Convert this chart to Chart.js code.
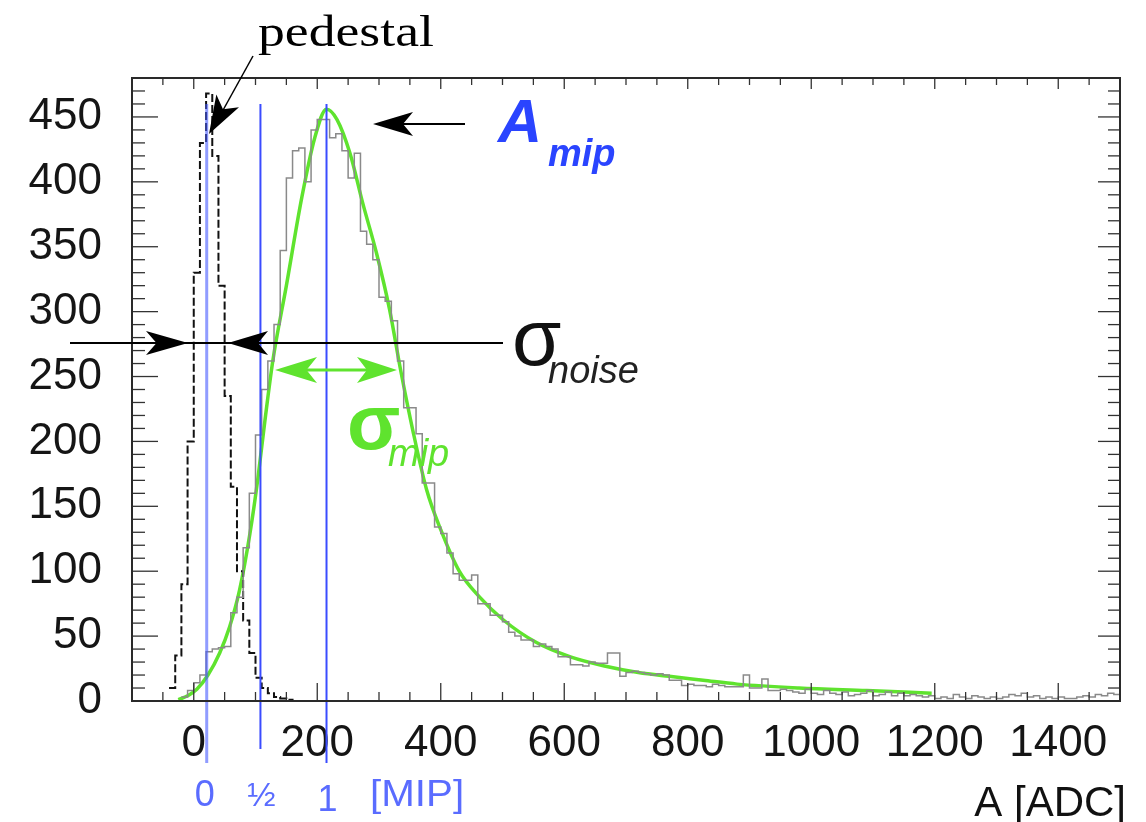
<!DOCTYPE html>
<html>
<head>
<meta charset="utf-8">
<script src="https://cdn.jsdelivr.net/npm/chart.js@4.4.1/dist/chart.umd.min.js"></script>
<style>
html,body{margin:0;padding:0;background:#fff;}
canvas{display:block;}
</style>
</head>
<body>
<canvas id="c" width="1146" height="822"></canvas>
<script>
// ---------------- data ----------------
const binWidth = 10;

// pedestal histogram (black), bins start at pedLowEdge
const pedLowEdge = -40;
const pedCounts = [10, 35, 90, 200, 330, 430, 468, 420, 320, 235, 165, 100, 62, 37, 18, 10, 6, 3, 2, 1, 0];

// MIP signal histogram (grey), bins start at mipLowEdge
const mipLowEdge = -20;
const mipCounts = [
  3, 8, 14, 20, 38, 40, 41, 42, 68, 80,
  118, 160, 205, 240, 262, 290, 347, 403, 424, 426,
  400, 440, 448, 448, 434, 437, 424, 403, 422, 362,
  352, 340, 311, 308, 293, 262, 226, 226, 206, 168,
  168, 134, 129, 114, 98, 93, 93, 97, 75, 75,
  66, 66, 61, 53, 50, 47, 47, 42, 44, 42,
  40, 34, 34, 28, 28, 27, 30, 29, 29, 37,
  37, 19, 22, 23, 22, 21, 20, 21, 20, 16,
  16, 12, 13, 12, 12, 11, 13, 12, 11, 11,
  11, 20, 10, 10, 17, 8, 8, 9, 8, 7,
  6, 9, 6, 5, 8, 6, 5, 7, 4, 5,
  6, 8, 4, 5, 7, 4, 6, 4, 5, 4,
  3, 4, 2, 3, 2, 5, 3, 2, 4, 3,
  2, 3, 2, 3, 5, 4, 6, 3, 4, 2,
  3, 2, 3, 2, 2, 3, 4, 3, 5, 4,
  6, 5
];

// fitted Landau (x) Gauss curve (green)
const fitX = [-25, -10, 5, 23, 42, 58, 74, 91, 104, 115, 128, 150, 175, 196, 215, 232, 253, 274, 296, 317, 335, 355, 377, 400, 430, 463, 500, 555, 610, 665, 720, 770, 825, 880, 980, 1090, 1195];
const fitY = [1, 4, 9, 20, 37, 57, 85, 129, 172, 215, 262, 320, 388, 434, 456, 448, 422, 383, 345, 302, 255, 208, 163, 132, 100, 80, 63, 45, 34, 27, 22, 19, 16, 13, 10, 8, 6];

// MIP scale markers (ADC positions of 0, 1/2, 1 MIP)
const mipMarkADC = [21, 108, 215];
const mipMarkLabels = ['0', '\u00BD', '1'];
const mipMarkTop = 460;

// axis ticks
const xTickValues = [0, 200, 400, 600, 800, 1000, 1200, 1400];
const yTickValues = [0, 50, 100, 150, 200, 250, 300, 350, 400, 450];
const xMin = -100, xMax = 1500, yMin = 0, yMax = 480;

// ---------------- helpers ----------------
function histPoints(low, w, counts) {
  const pts = counts.map((c, i) => ({ x: low + i * w, y: c }));
  pts.push({ x: low + counts.length * w, y: counts[counts.length - 1] });
  return pts;
}
function zip(xs, ys) { return xs.map((x, i) => ({ x: x, y: ys[i] })); }

function line(ctx, x1, y1, x2, y2) { ctx.beginPath(); ctx.moveTo(x1, y1); ctx.lineTo(x2, y2); ctx.stroke(); }
function head(ctx, tx, ty, ang, len, hw) {
  const c = Math.cos(ang), s = Math.sin(ang);
  const bx = tx - c * len, by = ty - s * len;
  ctx.beginPath();
  ctx.moveTo(tx, ty);
  ctx.lineTo(bx - s * hw, by + c * hw);
  ctx.lineTo(bx + c * len * 0.25, by + s * len * 0.25);
  ctx.lineTo(bx + s * hw, by - c * hw);
  ctx.closePath();
  ctx.fill();
}
function text(ctx, str, x, y, font, color, align, sx) {
  ctx.save();
  ctx.translate(x, y);
  ctx.scale(sx || 1, 1);
  ctx.font = font;
  ctx.fillStyle = color;
  ctx.textAlign = align || 'left';
  ctx.textBaseline = 'alphabetic';
  ctx.fillText(str, 0, 0);
  ctx.restore();
}

const BLUE = '#2a44ff';
const BLUE_LIGHT = '#5a6cff';
const GREEN = '#5fe32e';

const deco = {
  id: 'deco',
  afterDatasetsDraw(chart) {
    const { ctx, chartArea: a, scales: { x, y } } = chart;
    ctx.save();

    // MIP marker lines (blue)
    const ends = [62, 48, 62];
    mipMarkADC.forEach((v, i) => {
      const px = x.getPixelForValue(v);
      ctx.strokeStyle = i === 0 ? 'rgba(70,90,255,0.6)' : '#3a4cff';
      ctx.lineWidth = i === 0 ? 3 : 2;
      line(ctx, px, y.getPixelForValue(mipMarkTop), px, a.bottom + ends[i]);
    });

    // inner ticks (ROOT style)
    ctx.strokeStyle = '#333';
    ctx.lineWidth = 1.3;
    for (let v = xMin; v <= xMax; v += 50) {
      const px = x.getPixelForValue(v);
      const major = v % 200 === 0;
      line(ctx, px, a.bottom, px, a.bottom - (major ? 18 : 9));
      line(ctx, px, a.top, px, a.top + (major ? 11 : 7));
    }
    for (let v = yMin; v <= yMax; v += 10) {
      const py = y.getPixelForValue(v);
      const major = v % 50 === 0;
      line(ctx, a.left, py, a.left + (major ? 26 : 13), py);
      line(ctx, a.right, py, a.right - (major ? 22 : 12), py);
    }
    // frame
    ctx.lineWidth = 2;
    ctx.strokeStyle = '#2a2a2a';
    ctx.strokeRect(a.left, a.top, a.right - a.left, a.bottom - a.top);

    // ---- annotations ----
    ctx.fillStyle = '#000';
    ctx.strokeStyle = '#000';
    // pedestal label + arrow
    text(ctx, 'pedestal', 258, 46, '44px "Liberation Serif"', '#000', 'left', 1.22);
    ctx.lineWidth = 1.5;
    line(ctx, 253, 56, 222, 112);
    head(ctx, 209, 134, Math.atan2(134 - 56, 209 - 253), 38, 13);

    // A_mip arrow and label
    ctx.lineWidth = 2;
    line(ctx, 465, 124, 390, 124);
    head(ctx, 373, 124, Math.PI, 40, 12);
    text(ctx, 'A', 498, 142, 'italic bold 61px "Liberation Sans"', BLUE, 'left');
    text(ctx, 'mip', 548, 166, 'italic bold 38px "Liberation Sans"', BLUE, 'left');

    // sigma noise
    ctx.lineWidth = 2;
    line(ctx, 70, 343, 503, 343);
    head(ctx, 188, 343, 0, 42, 12);
    head(ctx, 228, 343, Math.PI, 40, 12);
    text(ctx, '\u03C3', 512, 365, '80px "Liberation Sans"', '#111', 'left');
    text(ctx, 'noise', 548, 383, 'italic 38px "Liberation Sans"', '#222', 'left');

    // sigma mip (green double arrow)
    ctx.strokeStyle = GREEN;
    ctx.fillStyle = GREEN;
    ctx.lineWidth = 3;
    line(ctx, 300, 370, 375, 370);
    head(ctx, 275, 370, Math.PI, 42, 13);
    head(ctx, 397, 370, 0, 40, 13);
    text(ctx, '\u03C3', 347, 449, 'bold 78px "Liberation Sans"', GREEN, 'left');
    text(ctx, 'mip', 388, 466, 'italic 38px "Liberation Sans"', GREEN, 'left');

    // MIP scale labels under axis
    mipMarkADC.forEach((v, i) => {
      const px = x.getPixelForValue(v);
      const half = mipMarkLabels[i] === '\u00BD';
      text(ctx, mipMarkLabels[i], px + (i === 0 ? -2 : 1), i === 2 ? 811 : 806,
        (half ? '34px' : '36px') + ' "Liberation Sans"', BLUE_LIGHT, 'center');
    });
    text(ctx, '[MIP]', 370, 806, '36px "Liberation Sans"', BLUE_LIGHT, 'left', 1.12);

    // axis title
    text(ctx, 'A [ADC]', 1126, 816, '42px "Liberation Sans"', '#111', 'right');

    ctx.restore();
  }
};

new Chart(document.getElementById('c'), {
  type: 'line',
  data: {
    datasets: [
      {
        label: 'MIP',
        data: histPoints(mipLowEdge, binWidth, mipCounts),
        stepped: 'before',
        borderColor: '#8a8a8a',
        borderWidth: 1.5,
        pointRadius: 0,
        fill: false
      },
      {
        label: 'pedestal',
        data: histPoints(pedLowEdge, binWidth, pedCounts),
        stepped: 'before',
        borderColor: '#111',
        borderWidth: 2,
        borderDash: [8, 3],
        pointRadius: 0,
        fill: false
      },
      {
        label: 'fit',
        data: zip(fitX, fitY),
        borderColor: GREEN,
        borderWidth: 3.5,
        pointRadius: 0,
        cubicInterpolationMode: 'monotone',
        fill: false
      }
    ]
  },
  options: {
    responsive: false,
    animation: false,
    devicePixelRatio: 1,
    layout: { padding: { left: 0, top: 78, right: 26, bottom: 0 } },
    plugins: { legend: { display: false }, tooltip: { enabled: false } },
    scales: {
      x: {
        type: 'linear',
        min: xMin, max: xMax,
        grid: { display: false, drawTicks: false },
        border: { display: false },
        afterBuildTicks: (s) => { s.ticks = xTickValues.map(v => ({ value: v })); },
        afterFit: (s) => { s.height = 121; },
        ticks: {
          padding: 16,
          maxRotation: 0,
          autoSkip: false,
          color: '#151515',
          font: { family: '"Liberation Sans"', size: 44 },
          callback: (v) => String(v)
        }
      },
      y: {
        type: 'linear',
        min: yMin, max: yMax,
        grid: { display: false, drawTicks: false },
        border: { display: false },
        afterBuildTicks: (s) => { s.ticks = yTickValues.map(v => ({ value: v })); },
        afterFit: (s) => { s.width = 132; },
        ticks: {
          padding: 30,
          autoSkip: false,
          color: '#151515',
          font: { family: '"Liberation Sans"', size: 44 },
          callback: (v) => String(v)
        }
      }
    }
  },
  plugins: [deco]
});
</script>
</body>
</html>
